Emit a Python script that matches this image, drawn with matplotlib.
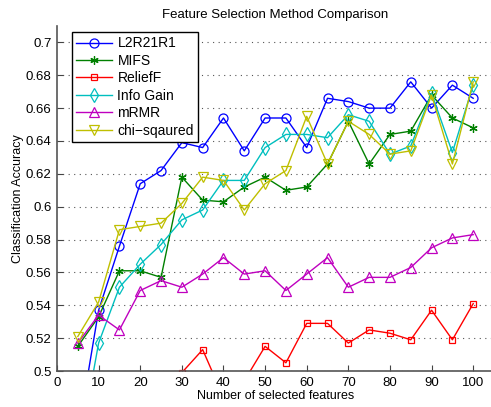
import matplotlib
matplotlib.use("Agg")
import matplotlib.pyplot as plt
from matplotlib.ticker import FuncFormatter

plt.rcParams['font.family'] = ['Liberation Sans', 'DejaVu Sans']

# number of selected features
n_feat = [5, 10, 15, 20, 25, 30, 35, 40, 45, 50, 55, 60, 65, 70, 75, 80, 85, 90, 95, 100]

# accuracy per method
l2r21r1 = [0.461, 0.537, 0.576, 0.614, 0.622, 0.639, 0.636, 0.654, 0.634, 0.654,
           0.654, 0.636, 0.666, 0.664, 0.660, 0.660, 0.676, 0.660, 0.674, 0.666]
mifs = [0.515, 0.533, 0.561, 0.561, 0.557, 0.618, 0.604, 0.603, 0.612, 0.618,
        0.610, 0.612, 0.626, 0.652, 0.626, 0.644, 0.646, 0.668, 0.654, 0.648]
relieff = [0.470, 0.475, 0.480, 0.478, 0.482, 0.499, 0.513, 0.484, 0.494, 0.515,
           0.505, 0.529, 0.529, 0.517, 0.525, 0.523, 0.519, 0.537, 0.519, 0.541]
info_gain = [0.447, 0.517, 0.551, 0.565, 0.577, 0.592, 0.598, 0.616, 0.616, 0.636,
             0.644, 0.644, 0.642, 0.656, 0.652, 0.632, 0.637, 0.669, 0.633, 0.674]
mrmr = [0.517, 0.534, 0.525, 0.549, 0.555, 0.551, 0.559, 0.569, 0.559, 0.561,
        0.549, 0.559, 0.569, 0.551, 0.557, 0.557, 0.563, 0.575, 0.581, 0.583]
chi_sq = [0.521, 0.542, 0.586, 0.588, 0.590, 0.602, 0.618, 0.616, 0.598, 0.614,
          0.622, 0.655, 0.626, 0.652, 0.644, 0.632, 0.634, 0.668, 0.626, 0.676]

labels = ['L2R21R1', 'MIFS', 'ReliefF', 'Info Gain', 'mRMR', 'chi\u2212sqaured']
series = [l2r21r1, mifs, relieff, info_gain, mrmr, chi_sq]
colors = ['#0000ff', '#008000', '#ff0000', '#00bfbf', '#bf00bf', '#bfbf00']
markers = ['o', (6, 2, 0), 's', 'd', '^', 'v']
msizes = [6.5, 6, 5, 7, 7, 7]

fig = plt.figure(figsize=(4.91, 4.07), dpi=100)
ax = fig.add_axes([57 / 491, 36 / 407, 437 / 491, 345 / 407])

for y, lab, c, m, ms in zip(series, labels, colors, markers, msizes):
    ax.plot(n_feat, y, color=c, marker=m, markersize=ms, markerfacecolor='none',
            markeredgecolor=c, markeredgewidth=0.9, lw=1.0, label=lab)

ax.set_xlim(0, 105)
ax.set_ylim(0.5, 0.71)
ax.set_xticks(range(0, 101, 10))
ax.set_yticks([0.5, 0.52, 0.54, 0.56, 0.58, 0.6, 0.62, 0.64, 0.66, 0.68, 0.7])
ax.yaxis.set_major_formatter(FuncFormatter(lambda v, p: '%g' % round(v, 2)))
ax.tick_params(direction='in', length=4, labelsize=9.5, color='#444444', pad=4)
ax.yaxis.grid(True, linestyle=(0, (1, 4)), color='#555555', lw=0.8)

for s in ['top', 'right']:
    ax.spines[s].set_visible(False)
for s in ['left', 'bottom']:
    ax.spines[s].set_color('#555555')
    ax.spines[s].set_linewidth(1.2)

ax.set_xlabel('Number of selected features', fontsize=9)
ax.xaxis.set_label_coords(0.5, -0.055)
ax.set_ylabel('Classification Accuracy', fontsize=9)
ax.yaxis.set_label_coords(-0.075, 0.5)
ax.set_title('Feature Selection Method Comparison', fontsize=9.5, pad=6)

leg = ax.legend(loc='upper left', bbox_to_anchor=(0.027, 0.99), fontsize=10,
                fancybox=False, framealpha=1, edgecolor='black',
                handlelength=2.6, borderpad=0.3, labelspacing=0.25, handletextpad=0.4,
                borderaxespad=0.2)
leg.get_frame().set_linewidth(1.0)

fig.savefig('out.png', dpi=100)
